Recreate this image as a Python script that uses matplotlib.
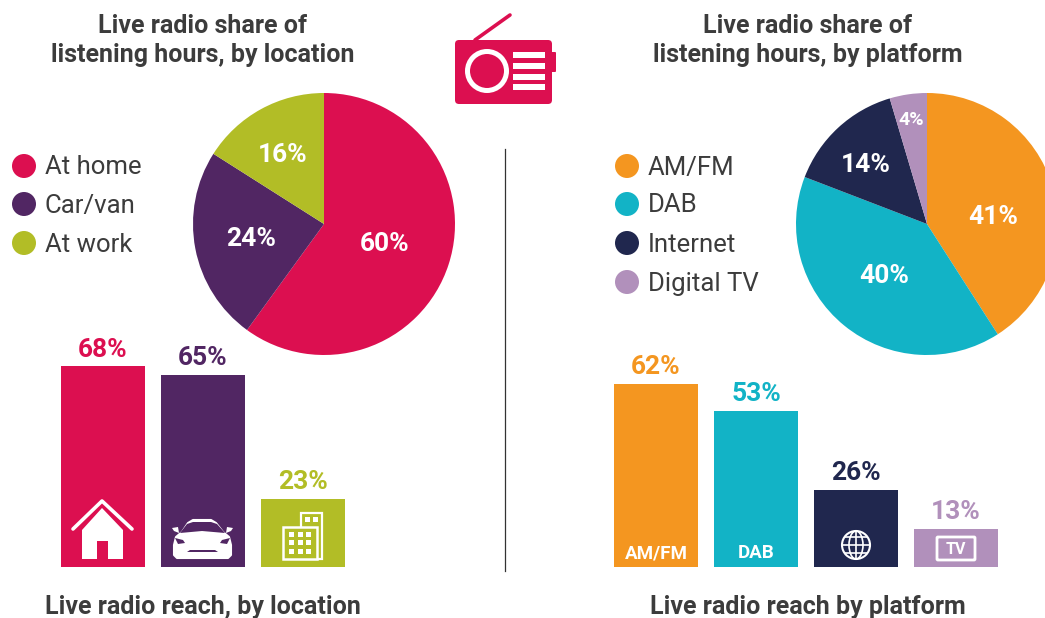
import matplotlib
matplotlib.use("Agg")
import matplotlib.pyplot as plt
from matplotlib.patches import Circle, Ellipse, FancyBboxPatch, Polygon, Rectangle

plt.rcParams["font.family"] = ["Roboto", "DejaVu Sans"]

location_names = ["At home", "Car/van", "At work"]
location_share = [60, 24, 16]
location_reach = [68, 65, 23]

platform_names = ["AM/FM", "DAB", "Internet", "Digital TV"]
platform_share = [41, 40, 14.6, 4.6]
platform_share_labels = ["41%", "40%", "14%", "4%"]
platform_reach = [62, 53, 26, 13]

location_colors = ["#DC0F50", "#512663", "#B2BD26"]
platform_colors = ["#F49620", "#12B3C6", "#20274E", "#B190BB"]
text_color = "#3C3C3C"

W, H = 1045, 618
fig = plt.figure(figsize=(W / 100, H / 100), dpi=100)


def px_axes(left, top, right, bottom):
    return fig.add_axes([left / W, 1 - bottom / H, (right - left) / W, (bottom - top) / H])


# overlay in pixel coords for text and icons
bg = fig.add_axes([0, 0, 1, 1], zorder=5)
bg.set_xlim(0, W)
bg.set_ylim(H, 0)
bg.axis("off")
bg.patch.set_alpha(0)


def draw_pie(cx, cy, r, values, colors, labels, label_pos, sizes):
    ax = px_axes(cx - r, cy - r, cx + r, cy + r)
    ax.pie(values, colors=colors, startangle=90, counterclock=False, radius=1,
           wedgeprops={"linewidth": 0}, normalize=True)
    ax.set_xlim(-1, 1)
    ax.set_ylim(-1, 1)
    for lab, (x, y), s in zip(labels, label_pos, sizes):
        bg.text(x, y, lab, color="white", fontsize=s, fontweight="bold", ha="center", va="center")


def draw_bars(left_center, baseline, values, colors, px_per_pct):
    top = baseline - 70 * px_per_pct
    ax = px_axes(left_center - 50, top, left_center - 50 + 100 * len(values), baseline)
    ax.bar(range(len(values)), values, width=0.84, color=colors)
    ax.set_xlim(-0.5, len(values) - 0.5)
    ax.set_ylim(0, 70)
    ax.axis("off")
    for i, v in enumerate(values):
        ax.annotate(f"{v}%", (i, v), xytext=(0, 3.5), textcoords="offset points", ha="center",
                    va="bottom", color=colors[i], fontsize=19, fontweight="bold")


draw_pie(324, 224, 131, location_share, location_colors,
         ["60%", "24%", "16%"], [(385, 244), (251, 239), (283, 155)], [19] * 3)
draw_pie(927, 224, 131, platform_share, platform_colors, platform_share_labels,
         [(993, 217), (884, 276), (866, 165), (911, 120)], [19, 19, 19, 14])

draw_bars(103, 567, location_reach, location_colors, 2.95)
draw_bars(656, 567, platform_reach, platform_colors, 2.95)

# titles
for x, y, txt in [(203, 26, "Live radio share of"), (203, 55, "listening hours, by location"),
                  (808, 26, "Live radio share of"), (808, 55, "listening hours, by platform"),
                  (203, 607, "Live radio reach, by location"), (808, 607, "Live radio reach by platform")]:
    bg.text(x, y, txt, color=text_color, fontsize=18, fontweight="bold", ha="center", va="center")

# legends
for i, name in enumerate(location_names):
    y = [166, 204, 243][i]
    bg.add_patch(Circle((24, y), 12, color=location_colors[i], lw=0))
    bg.text(45, y + 1.5, name, color=text_color, fontsize=18.5, va="center")
for i, name in enumerate(platform_names):
    y = [166, 204, 243, 282][i]
    bg.add_patch(Circle((627, y), 12, color=platform_colors[i], lw=0))
    bg.text(648, y + 1.5, name, color=text_color, fontsize=18.5, va="center")

# divider
bg.plot([505, 505], [149, 571], color="#333333", lw=0.9)

# radio icon
red = location_colors[0]
bg.add_patch(FancyBboxPatch((459, 44), 89, 56, boxstyle="round,pad=4", fc=red, ec="none"))
bg.add_patch(FancyBboxPatch((550, 53), 5, 18, boxstyle="round,pad=1", fc=red, ec="none"))
bg.plot([475, 510], [40, 15], color=red, lw=2.6, solid_capstyle="round")
bg.add_patch(Circle((487, 71), 19.5, fc=red, ec="white", lw=3.6))
for y in [52, 63, 74, 84]:
    bg.add_patch(Rectangle((513, y), 32, 6.3, fc="white", ec="none"))

# house icon
bg.add_patch(Polygon([(82, 559), (82, 530), (102, 508), (123, 530), (123, 559)], fc="white", ec="none"))
bg.add_patch(Rectangle((97, 541), 11, 18, fc=red, ec="none"))
bg.plot([73, 102, 132], [529, 501, 529], color="white", lw=2.6, solid_capstyle="round")

# car icon
purple = location_colors[1]
bg.add_patch(Polygon([(174, 545), (176, 537), (182, 532), (188, 523), (193, 520), (211, 520), (216, 523),
                      (223, 532), (229, 537), (231, 545), (231, 555), (228, 558), (177, 558), (174, 555)],
                     fc="white", ec="white", lw=1.5, joinstyle="round"))
bg.add_patch(Polygon([(180, 533), (187, 524), (193, 522), (211, 522), (217, 524), (225, 533), (202, 531)],
                     fc=purple, ec="none"))
bg.add_patch(Polygon([(172, 528), (178, 527), (179, 533), (174, 531)], fc="white", ec="none"))
bg.add_patch(Polygon([(233, 528), (227, 527), (226, 533), (231, 531)], fc="white", ec="none"))
bg.add_patch(Polygon([(175, 538), (183, 540), (185, 543), (178, 544)], fc=purple, ec="none"))
bg.add_patch(Polygon([(230, 538), (222, 540), (220, 543), (227, 544)], fc=purple, ec="none"))
bg.add_patch(Polygon([(187, 552), (190, 550), (215, 550), (218, 552)], fc=purple, ec="none"))

# building icon
bg.add_patch(Rectangle((301, 513), 21, 46, fc="none", ec="white", lw=1.6))
bg.add_patch(Rectangle((283, 527), 34, 32, fc=location_colors[2], ec="white", lw=1.8))
for x in [305, 313]:
    bg.add_patch(Rectangle((x, 517), 4.5, 4.5, fc="white", ec="none"))
for x in [289, 298, 306]:
    for y in [532, 540, 549]:
        bg.add_patch(Rectangle((x, y), 5, 5, fc="white", ec="none"))

# platform bar labels and icons
bg.text(656, 553, "AM/FM", color="white", fontsize=13.5, fontweight="bold", ha="center", va="center")
bg.text(756, 553, "DAB", color="white", fontsize=13.5, fontweight="bold", ha="center", va="center")

# globe icon
bg.add_patch(Circle((856, 545), 14, fc="none", ec="white", lw=1.5))
bg.add_patch(Ellipse((856, 545), 14, 28, fc="none", ec="white", lw=1.2))
bg.plot([856, 856], [531, 559], color="white", lw=1.2)
bg.plot([842, 870], [545, 545], color="white", lw=1.2)
bg.plot([845, 867], [537, 537], color="white", lw=1.2)
bg.plot([845, 867], [553, 553], color="white", lw=1.2)

# tv icon
bg.add_patch(FancyBboxPatch((938, 538), 36, 21, boxstyle="round,pad=1", fc="none", ec="white", lw=2))
bg.text(956, 549, "TV", color="white", fontsize=11.5, fontweight="bold", ha="center", va="center")

fig.savefig("out.png", dpi=100)
